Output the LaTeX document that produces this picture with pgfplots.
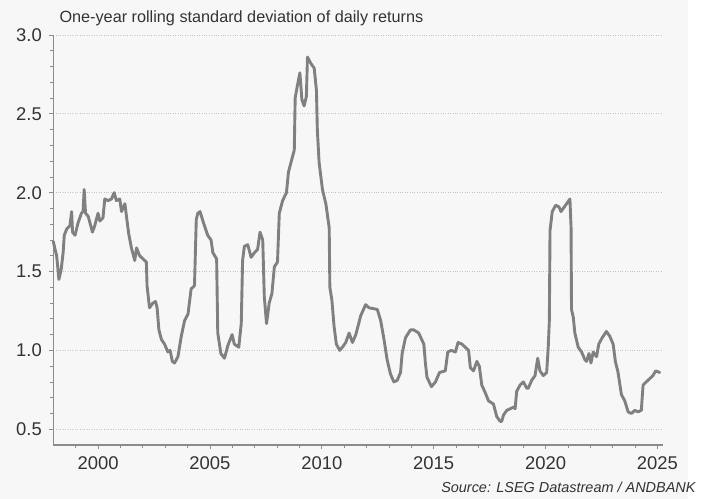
\documentclass[border=0pt]{standalone}
\usepackage{fontspec}
\setmainfont{Liberation Sans}
\usepackage{pgfplots}
\pgfplotsset{compat=1.18}
\definecolor{bg}{HTML}{F7F7F7}
\definecolor{linec}{HTML}{808080}
\definecolor{axc}{HTML}{8C8C8C}
\definecolor{gridc}{HTML}{C4C4C4}
\definecolor{txt}{HTML}{333333}
\pgfplotstableread{
year val
1998.00 1.69
1998.08 1.64
1998.15 1.60
1998.25 1.45
1998.35 1.51
1998.44 1.62
1998.49 1.73
1998.60 1.77
1998.74 1.79
1998.82 1.88
1998.86 1.75
1998.97 1.73
1999.11 1.81
1999.26 1.87
1999.33 1.88
1999.38 2.02
1999.44 1.87
1999.56 1.85
1999.75 1.75
1999.85 1.79
2000.00 1.87
2000.08 1.82
2000.22 1.84
2000.30 1.96
2000.45 1.95
2000.60 1.96
2000.72 2.00
2000.82 1.95
2000.97 1.96
2001.05 1.88
2001.20 1.93
2001.27 1.85
2001.37 1.74
2001.49 1.65
2001.64 1.57
2001.72 1.65
2001.86 1.60
2002.01 1.58
2002.16 1.56
2002.19 1.41
2002.30 1.27
2002.45 1.30
2002.57 1.31
2002.64 1.27
2002.72 1.13
2002.83 1.07
2002.97 1.04
2003.12 0.99
2003.22 1.00
2003.32 0.93
2003.42 0.92
2003.57 0.96
2003.72 1.09
2003.87 1.19
2004.02 1.23
2004.16 1.39
2004.31 1.41
2004.39 1.83
2004.46 1.87
2004.56 1.88
2004.71 1.81
2004.90 1.73
2005.05 1.70
2005.13 1.62
2005.30 1.58
2005.35 1.11
2005.49 0.98
2005.65 0.95
2005.80 1.03
2005.99 1.10
2006.09 1.04
2006.29 1.02
2006.40 1.17
2006.46 1.57
2006.54 1.66
2006.69 1.67
2006.84 1.59
2006.99 1.62
2007.13 1.64
2007.24 1.75
2007.36 1.70
2007.43 1.34
2007.53 1.17
2007.65 1.30
2007.77 1.36
2007.88 1.53
2008.02 1.56
2008.10 1.87
2008.25 1.95
2008.42 2.00
2008.51 2.13
2008.62 2.19
2008.77 2.27
2008.81 2.60
2008.91 2.68
2009.02 2.76
2009.11 2.59
2009.21 2.55
2009.31 2.61
2009.36 2.86
2009.51 2.82
2009.66 2.79
2009.76 2.65
2009.80 2.40
2009.88 2.19
2010.03 2.02
2010.18 1.93
2010.33 1.78
2010.36 1.40
2010.45 1.32
2010.55 1.15
2010.65 1.04
2010.80 1.00
2010.92 1.02
2011.07 1.05
2011.22 1.11
2011.37 1.05
2011.52 1.10
2011.74 1.22
2011.96 1.29
2012.11 1.27
2012.48 1.26
2012.63 1.19
2012.78 1.07
2012.92 0.94
2013.07 0.85
2013.22 0.80
2013.37 0.81
2013.52 0.86
2013.59 0.98
2013.74 1.08
2013.96 1.13
2014.11 1.13
2014.33 1.11
2014.56 1.04
2014.63 0.92
2014.70 0.83
2014.90 0.77
2015.08 0.80
2015.26 0.86
2015.52 0.87
2015.63 0.99
2015.79 1.00
2015.97 0.99
2016.09 1.05
2016.26 1.04
2016.41 1.02
2016.56 1.00
2016.64 0.89
2016.78 0.87
2016.93 0.93
2017.04 0.90
2017.15 0.78
2017.31 0.73
2017.45 0.68
2017.67 0.66
2017.82 0.58
2017.97 0.55
2018.04 0.55
2018.12 0.59
2018.27 0.62
2018.42 0.63
2018.57 0.64
2018.64 0.63
2018.71 0.74
2018.86 0.78
2019.01 0.80
2019.16 0.76
2019.23 0.76
2019.38 0.81
2019.53 0.84
2019.65 0.95
2019.75 0.87
2019.90 0.84
2020.05 0.86
2020.12 1.02
2020.17 1.19
2020.20 1.76
2020.30 1.88
2020.45 1.92
2020.60 1.91
2020.69 1.88
2020.79 1.90
2020.94 1.93
2021.09 1.96
2021.14 1.78
2021.16 1.26
2021.24 1.21
2021.31 1.11
2021.46 1.02
2021.61 0.99
2021.76 0.94
2021.83 0.93
2021.94 0.98
2022.03 0.92
2022.13 0.99
2022.28 0.96
2022.38 1.04
2022.53 1.08
2022.72 1.12
2022.87 1.09
2023.02 1.04
2023.12 0.93
2023.24 0.86
2023.39 0.72
2023.54 0.68
2023.69 0.61
2023.84 0.60
2023.99 0.62
2024.13 0.61
2024.28 0.62
2024.36 0.78
2024.50 0.80
2024.65 0.82
2024.80 0.84
2024.92 0.87
2025.10 0.86
}\datatable
\begin{document}
\begin{tikzpicture}[x=1bp,y=1bp]
\path[use as bounding box] (0,0) rectangle (701,499);
\fill[bg] (0,0) rectangle (688,499);
\begin{axis}[
  at={(53.3bp,54bp)}, anchor=south west,
  scale only axis, width=609.7bp, height=410bp,
  xmin=1998, xmax=2025.25, ymin=0.4, ymax=3.0,
  axis x line*=bottom, axis y line*=left,
  axis line style={axc, line width=1.2bp},
  xtick={2000,2005,...,2025},
  minor xtick={1999,2001,2002,2003,2004,2006,2007,2008,2009,2011,2012,2013,2014,2016,2017,2018,2019,2021,2022,2023,2024},
  ytick={0.5,1.0,...,3.0},
  minor ytick={0.6,0.7,0.8,0.9,1.1,1.2,1.3,1.4,1.6,1.7,1.8,1.9,2.1,2.2,2.3,2.4,2.6,2.7,2.8,2.9},
  tick align=outside,
  major tick length=4bp, minor tick length=3bp,
  tick style={axc, line width=0.8bp},
  ymajorgrids,
  major grid style={dotted, gridc, line width=0.7bp},
  /pgf/number format/assume math mode=true,
  tick label style={font=\fontsize{18.5}{20}\selectfont, text=txt},
  xticklabel style={yshift=-4bp, /pgf/number format/1000 sep={}},
  yticklabel style={xshift=-4bp, /pgf/number format/.cd, fixed, fixed zerofill, precision=1},
  clip=false,
]
\addplot[linec, line width=2.9bp, line join=round, line cap=round] table[x=year, y=val] {\datatable};
\end{axis}
\node[anchor=base west, text=txt, font=\fontsize{16.3}{20}\selectfont] at (56,476) {One-year rolling standard deviation of daily returns};
\node[anchor=base east, text=txt, font=\fontsize{14.5}{17}\selectfont\itshape] at (699,6) {Source: LSEG Datastream / ANDBANK};
\end{tikzpicture}
\end{document}
